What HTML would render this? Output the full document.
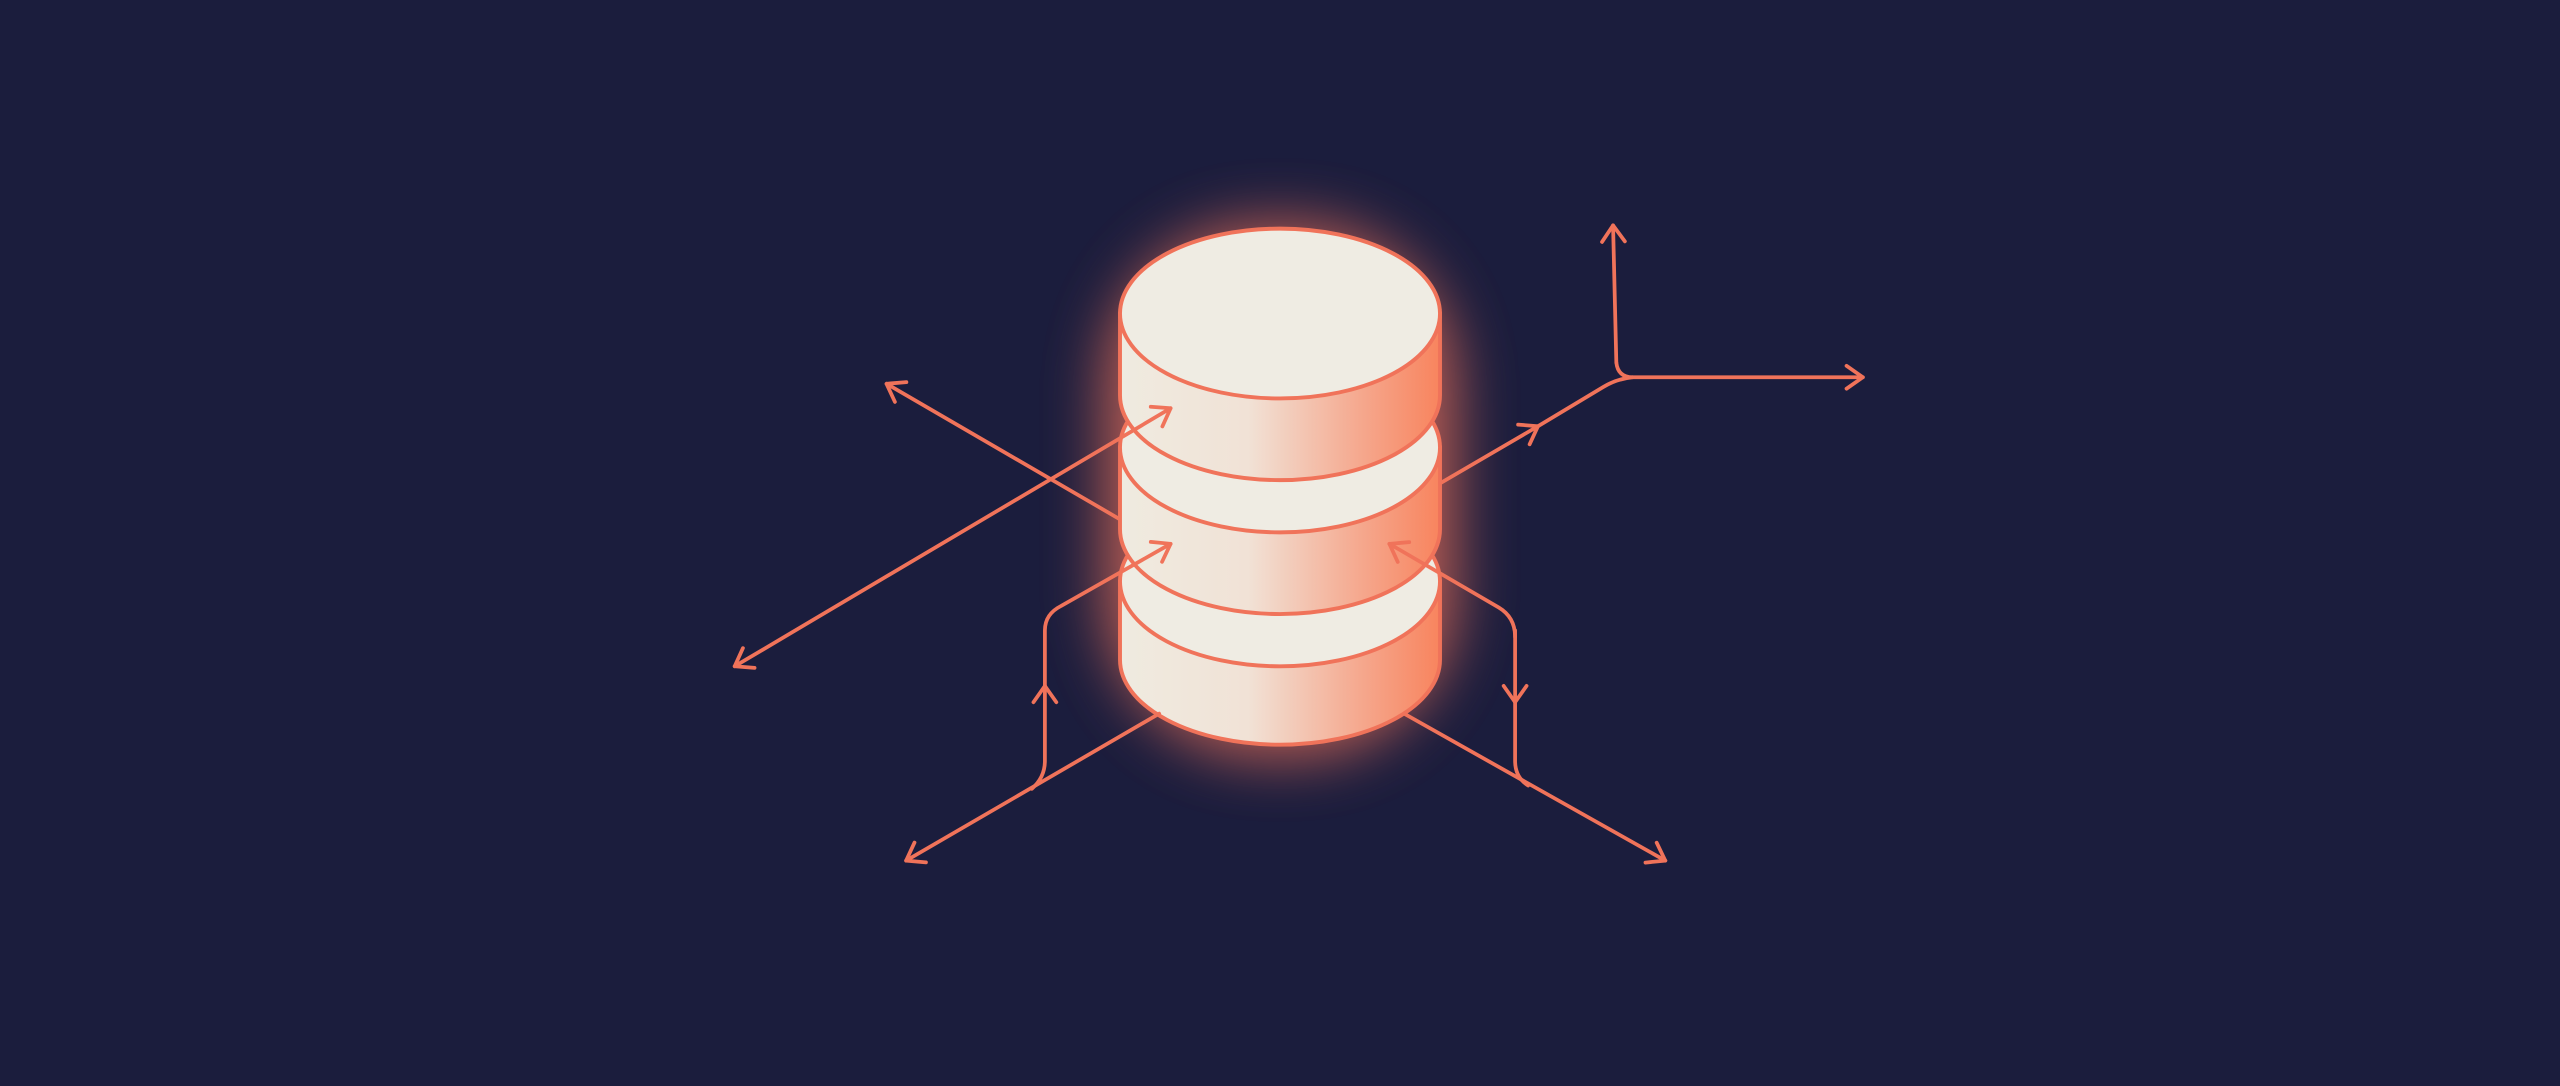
<!DOCTYPE html>
<html><head><meta charset="utf-8"><style>
html,body{margin:0;padding:0;background:#1b1d3d;}
svg{display:block;}
</style></head><body>
<svg width="2560" height="1086" viewBox="0 0 1568 665" preserveAspectRatio="none" xmlns="http://www.w3.org/2000/svg">
<defs>
<linearGradient id="side" x1="0" x2="1" y1="0" y2="0">
<stop offset="0" stop-color="#efebe0"/>
<stop offset="0.4" stop-color="#f1e2d6"/>
<stop offset="0.75" stop-color="#f5a88e"/>
<stop offset="1" stop-color="#f8845e"/>
</linearGradient>
<filter id="glow" x="-80%" y="-50%" width="260%" height="200%"><feGaussianBlur stdDeviation="18"/></filter>
<marker id="ah" viewBox="-12 -9 14 18" markerWidth="14" markerHeight="18" refX="0" refY="0" orient="auto" markerUnits="userSpaceOnUse">
<path d="M-10,-7 L0,0 L-10,7" fill="none" stroke="#f0735a" stroke-width="2.3" stroke-linecap="round" stroke-linejoin="round"/>
</marker>
<marker id="ahs" viewBox="-12 -9 14 18" markerWidth="14" markerHeight="18" refX="0" refY="0" orient="auto-start-reverse" markerUnits="userSpaceOnUse">
<path d="M-10,-7 L0,0 L-10,7" fill="none" stroke="#f0735a" stroke-width="2.3" stroke-linecap="round" stroke-linejoin="round"/>
</marker>
</defs>
<rect width="1568" height="665" fill="#1b1d3d"/>
<rect x="676" y="136" width="216" height="328" rx="100" fill="#f0735a" opacity="0.75" filter="url(#glow)"/>
<g stroke="#f0735a" stroke-width="2.3" fill="none" stroke-linecap="round" stroke-linejoin="round">
<path d="M686,318 L543,235" marker-end="url(#ah)"/>
</g>
<g stroke="#f0735a" stroke-width="2.4">
<path d="M686,356 L686,404 A98,52 0 0 0 882,404 L882,356 Z" fill="url(#side)"/>
<ellipse cx="784" cy="356" rx="98" ry="52" fill="#efece3"/>
<path d="M686,274 L686,324 A98,52 0 0 0 882,324 L882,274 Z" fill="url(#side)"/>
<ellipse cx="784" cy="274" rx="98" ry="52" fill="#efece3"/>
<path d="M686,192 L686,242 A98,52 0 0 0 882,242 L882,192 Z" fill="url(#side)"/>
<ellipse cx="784" cy="192" rx="98" ry="52" fill="#efece3"/>
</g>
<g stroke="#f0735a" stroke-width="2.3" fill="none" stroke-linecap="round" stroke-linejoin="round">
<path d="M450,408 L717,250" marker-start="url(#ahs)" marker-end="url(#ah)"/>
<path d="M882,296 L942,261" marker-end="url(#ah)"/>
<path d="M942,261 L982,237 Q990,232 1000,231 L1141,231" marker-end="url(#ah)"/>
<path d="M990,222 Q991,231 1000,231"/>
<path d="M990,222 L988,138" marker-end="url(#ah)"/>
<path d="M710,437 L555,527" marker-end="url(#ah)"/>
<path d="M632,483 Q640,476 640,466 L640,420" marker-end="url(#ah)"/>
<path d="M640,420 L640,386 Q640,376 650,371 L717,333" marker-end="url(#ah)"/>
<path d="M860,437 L1020,527" marker-end="url(#ah)"/>
<path d="M936,481 Q928,476 928,466 L928,430"/>
<path d="M928,386 L928,430" marker-end="url(#ah)"/>
<path d="M928,390 Q928,378 918,372 L851,333" marker-end="url(#ah)"/>
</g>
</svg>
</body></html>
